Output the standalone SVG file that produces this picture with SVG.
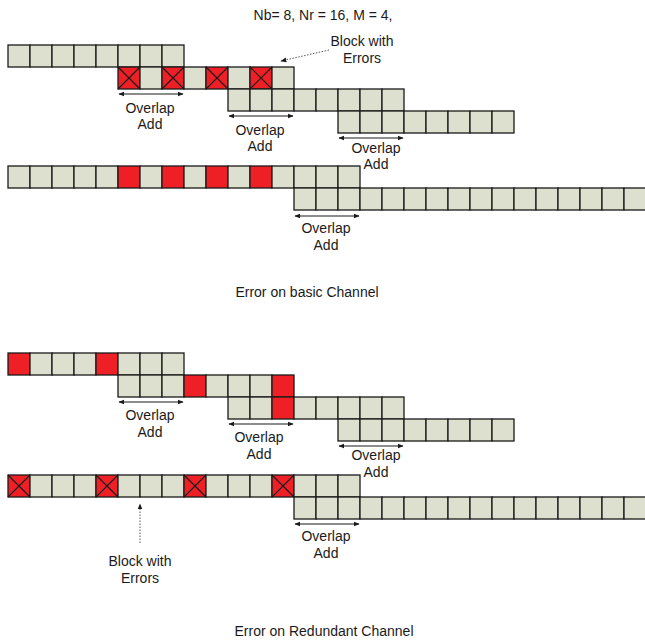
<svg xmlns="http://www.w3.org/2000/svg" xmlns:xlink="http://www.w3.org/1999/xlink" width="645" height="641" viewBox="0 0 645 641">
<style>
.c{fill:#dee0cf;stroke:#1a1a1a;stroke-width:1.3}
.r{fill:#ee2026;stroke:#1a1a1a;stroke-width:1.3}
.x{stroke:#1a1a1a;stroke-width:1.1;fill:none}
.t{font-family:"Liberation Sans",Arial,sans-serif;font-size:14px;fill:#1a1a1a;text-anchor:middle}
.a{stroke:#1a1a1a;stroke-width:1.2;fill:none;marker-start:url(#ah);marker-end:url(#ah)}
.d{stroke:#555;stroke-width:1;stroke-dasharray:1.5 1.5;fill:none;marker-end:url(#ah)}
</style>
<defs>
<marker id="ah" viewBox="0 0 10 10" refX="9" refY="5" markerWidth="6" markerHeight="6" orient="auto-start-reverse" markerUnits="userSpaceOnUse"><path d="M0,1 L10,5 L0,9 z" fill="#1a1a1a"/></marker>
<g id="cell"><rect class="c" x="0" y="0" width="22" height="22"/></g>
<g id="red"><rect class="r" x="0" y="0" width="22" height="22"/></g>
<g id="redx"><rect class="r" x="0" y="0" width="22" height="22"/><path class="x" d="M0,0 L22,22 M22,0 L0,22"/></g>
</defs>
<rect width="645" height="641" fill="#fff"/>
<text class="t" x="323" y="20">Nb= 8, Nr = 16, M = 4,</text>

<g id="top-row1">
<use href="#cell" x="8" y="45"/><use href="#cell" x="30" y="45"/><use href="#cell" x="52" y="45"/><use href="#cell" x="74" y="45"/><use href="#cell" x="96" y="45"/><use href="#cell" x="118" y="45"/><use href="#cell" x="140" y="45"/><use href="#cell" x="162" y="45"/>
</g>
<g id="top-row2">
<use href="#redx" x="118" y="67"/><use href="#cell" x="140" y="67"/><use href="#redx" x="162" y="67"/><use href="#cell" x="184" y="67"/><use href="#redx" x="206" y="67"/><use href="#cell" x="228" y="67"/><use href="#redx" x="250" y="67"/><use href="#cell" x="272" y="67"/>
</g>
<g id="top-row3">
<use href="#cell" x="228" y="89"/><use href="#cell" x="250" y="89"/><use href="#cell" x="272" y="89"/><use href="#cell" x="294" y="89"/><use href="#cell" x="316" y="89"/><use href="#cell" x="338" y="89"/><use href="#cell" x="360" y="89"/><use href="#cell" x="382" y="89"/>
</g>
<g id="top-row4">
<use href="#cell" x="338" y="111"/><use href="#cell" x="360" y="111"/><use href="#cell" x="382" y="111"/><use href="#cell" x="404" y="111"/><use href="#cell" x="426" y="111"/><use href="#cell" x="448" y="111"/><use href="#cell" x="470" y="111"/><use href="#cell" x="492" y="111"/>
</g>
<g id="top-row5">
<use href="#cell" x="8" y="166"/><use href="#cell" x="30" y="166"/><use href="#cell" x="52" y="166"/><use href="#cell" x="74" y="166"/><use href="#cell" x="96" y="166"/><use href="#red" x="118" y="166"/><use href="#cell" x="140" y="166"/><use href="#red" x="162" y="166"/><use href="#cell" x="184" y="166"/><use href="#red" x="206" y="166"/><use href="#cell" x="228" y="166"/><use href="#red" x="250" y="166"/><use href="#cell" x="272" y="166"/><use href="#cell" x="294" y="166"/><use href="#cell" x="316" y="166"/><use href="#cell" x="338" y="166"/>
</g>
<g id="top-row6">
<use href="#cell" x="294" y="188"/><use href="#cell" x="316" y="188"/><use href="#cell" x="338" y="188"/><use href="#cell" x="360" y="188"/><use href="#cell" x="382" y="188"/><use href="#cell" x="404" y="188"/><use href="#cell" x="426" y="188"/><use href="#cell" x="448" y="188"/><use href="#cell" x="470" y="188"/><use href="#cell" x="492" y="188"/><use href="#cell" x="514" y="188"/><use href="#cell" x="536" y="188"/><use href="#cell" x="558" y="188"/><use href="#cell" x="580" y="188"/><use href="#cell" x="602" y="188"/><use href="#cell" x="624" y="188"/>
</g>

<g id="bot-row1">
<use href="#red" x="8" y="353"/><use href="#cell" x="30" y="353"/><use href="#cell" x="52" y="353"/><use href="#cell" x="74" y="353"/><use href="#red" x="96" y="353"/><use href="#cell" x="118" y="353"/><use href="#cell" x="140" y="353"/><use href="#cell" x="162" y="353"/>
</g>
<g id="bot-row2">
<use href="#cell" x="118" y="375"/><use href="#cell" x="140" y="375"/><use href="#cell" x="162" y="375"/><use href="#red" x="184" y="375"/><use href="#cell" x="206" y="375"/><use href="#cell" x="228" y="375"/><use href="#cell" x="250" y="375"/><use href="#red" x="272" y="375"/>
</g>
<g id="bot-row3">
<use href="#cell" x="228" y="397"/><use href="#cell" x="250" y="397"/><use href="#red" x="272" y="397"/><use href="#cell" x="294" y="397"/><use href="#cell" x="316" y="397"/><use href="#cell" x="338" y="397"/><use href="#cell" x="360" y="397"/><use href="#cell" x="382" y="397"/>
</g>
<g id="bot-row4">
<use href="#cell" x="338" y="419"/><use href="#cell" x="360" y="419"/><use href="#cell" x="382" y="419"/><use href="#cell" x="404" y="419"/><use href="#cell" x="426" y="419"/><use href="#cell" x="448" y="419"/><use href="#cell" x="470" y="419"/><use href="#cell" x="492" y="419"/>
</g>
<g id="bot-row5">
<use href="#redx" x="8" y="475"/><use href="#cell" x="30" y="475"/><use href="#cell" x="52" y="475"/><use href="#cell" x="74" y="475"/><use href="#redx" x="96" y="475"/><use href="#cell" x="118" y="475"/><use href="#cell" x="140" y="475"/><use href="#cell" x="162" y="475"/><use href="#redx" x="184" y="475"/><use href="#cell" x="206" y="475"/><use href="#cell" x="228" y="475"/><use href="#cell" x="250" y="475"/><use href="#redx" x="272" y="475"/><use href="#cell" x="294" y="475"/><use href="#cell" x="316" y="475"/><use href="#cell" x="338" y="475"/>
</g>
<g id="bot-row6">
<use href="#cell" x="294" y="497"/><use href="#cell" x="316" y="497"/><use href="#cell" x="338" y="497"/><use href="#cell" x="360" y="497"/><use href="#cell" x="382" y="497"/><use href="#cell" x="404" y="497"/><use href="#cell" x="426" y="497"/><use href="#cell" x="448" y="497"/><use href="#cell" x="470" y="497"/><use href="#cell" x="492" y="497"/><use href="#cell" x="514" y="497"/><use href="#cell" x="536" y="497"/><use href="#cell" x="558" y="497"/><use href="#cell" x="580" y="497"/><use href="#cell" x="602" y="497"/><use href="#cell" x="624" y="497"/>
</g>

<g id="connectors">
<path class="a" d="M119,94 H183"/>
<path class="a" d="M229,116 H293"/>
<path class="a" d="M339,138 H403"/>
<path class="a" d="M295,216 H359"/>
<path class="a" d="M119,402 H183"/>
<path class="a" d="M229,424 H293"/>
<path class="a" d="M339,446 H403"/>
<path class="a" d="M295,524 H359"/>
<path class="d" d="M329,50 L281,61"/>
<path class="d" d="M140,543 V504"/>
</g>

<g id="labels">
<text class="t" x="150" y="112.5">Overlap</text><text class="t" x="150" y="129">Add</text>
<text class="t" x="260" y="134.5">Overlap</text><text class="t" x="260" y="151">Add</text>
<text class="t" x="376" y="152.5">Overlap</text><text class="t" x="376" y="169">Add</text>
<text class="t" x="326" y="233">Overlap</text><text class="t" x="326" y="250">Add</text>
<text class="t" x="362" y="46">Block with</text><text class="t" x="362" y="63">Errors</text>
<text class="t" x="307" y="297">Error on basic Channel</text>
<text class="t" x="150" y="420">Overlap</text><text class="t" x="150" y="437">Add</text>
<text class="t" x="259" y="442">Overlap</text><text class="t" x="259" y="459">Add</text>
<text class="t" x="376" y="460">Overlap</text><text class="t" x="376" y="477">Add</text>
<text class="t" x="326" y="541">Overlap</text><text class="t" x="326" y="558">Add</text>
<text class="t" x="140" y="566">Block with</text><text class="t" x="140" y="583">Errors</text>
<text class="t" x="324" y="636">Error on Redundant Channel</text>
</g>
</svg>
